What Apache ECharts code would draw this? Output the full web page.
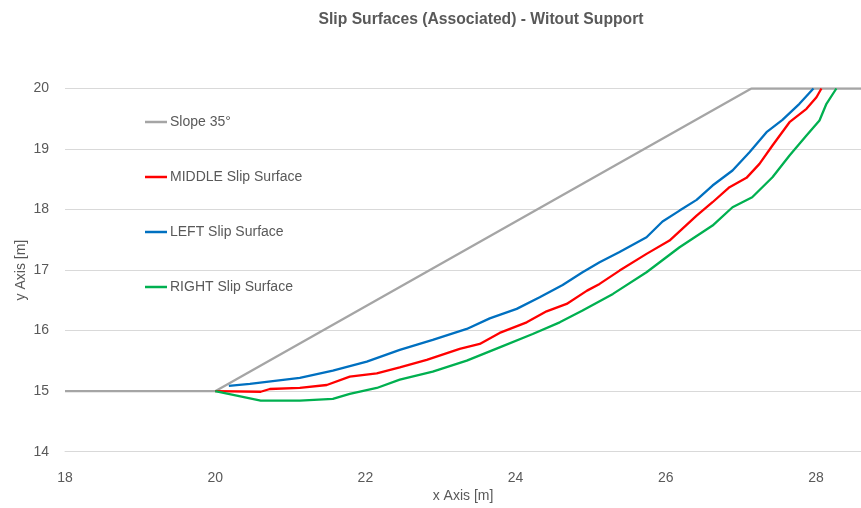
<!DOCTYPE html>
<html>
<head>
<meta charset="utf-8">
<script src="https://cdn.jsdelivr.net/npm/echarts@6/dist/echarts.min.js"></script>
<style>html,body{margin:0;padding:0;background:#fff;}#c{width:861px;height:508px;}</style>
</head>
<body>
<div id="c"></div>
<script>
const titleText = 'Slip Surfaces (Associated) - Witout Support';
const seriesNames = ['Slope 35°', 'MIDDLE Slip Surface', 'LEFT Slip Surface', 'RIGHT Slip Surface'];
const seriesColors = ['#A5A5A5', '#FF0000', '#0070C0', '#00B050'];

const slopeX = [18, 20, 27.14, 28.6];
const slopeY = [15, 15, 20, 20];

const middleX = [20.0, 20.606, 20.728, 21.127, 21.486, 21.792, 22.152, 22.458, 22.817, 23.256, 23.523, 23.788, 24.148, 24.413, 24.680, 24.952, 25.119, 25.385, 25.744, 26.050, 26.411, 26.623, 26.849, 27.075, 27.248, 27.421, 27.648, 27.874, 28.007, 28.073];
const middleY = [15.0, 14.99, 15.036, 15.053, 15.102, 15.240, 15.294, 15.393, 15.516, 15.698, 15.780, 15.962, 16.137, 16.319, 16.441, 16.661, 16.772, 16.992, 17.268, 17.488, 17.901, 18.121, 18.369, 18.524, 18.755, 19.058, 19.443, 19.664, 19.856, 20.0];

const leftX = [20.182, 20.462, 21.127, 21.567, 22.019, 22.458, 22.897, 23.350, 23.656, 24.015, 24.321, 24.627, 24.892, 25.119, 25.385, 25.744, 25.957, 26.184, 26.411, 26.623, 26.889, 27.115, 27.342, 27.554, 27.780, 27.967];
const leftY = [15.086, 15.119, 15.218, 15.339, 15.488, 15.681, 15.846, 16.028, 16.203, 16.359, 16.550, 16.755, 16.964, 17.13, 17.30, 17.542, 17.802, 17.983, 18.160, 18.397, 18.645, 18.947, 19.278, 19.483, 19.747, 20.0];

const rightX = [20.0, 20.606, 21.127, 21.567, 21.792, 22.152, 22.458, 22.897, 23.350, 23.788, 24.228, 24.588, 24.892, 25.297, 25.744, 26.184, 26.623, 26.889, 27.151, 27.421, 27.648, 27.874, 28.047, 28.140, 28.272];
const rightY = [15.0, 14.843, 14.843, 14.871, 14.954, 15.053, 15.190, 15.322, 15.504, 15.724, 15.945, 16.137, 16.331, 16.607, 16.964, 17.377, 17.736, 18.038, 18.203, 18.534, 18.893, 19.223, 19.471, 19.747, 20.0];

const xTicks = [18, 20, 22, 24, 26, 28];
const yTicks = [14, 15, 16, 17, 18, 19, 20];

const zip = (xs, ys) => xs.map((x, i) => [x, ys[i]]);
const allX = [slopeX, middleX, leftX, rightX];
const allY = [slopeY, middleY, leftY, rightY];

const font = "'Liberation Sans', 'DejaVu Sans', sans-serif";
const txt = '#595959';

const chart = echarts.init(document.getElementById('c'), null, {renderer: 'canvas'});
chart.setOption({
  animation: false,
  backgroundColor: '#fff',
  textStyle: {fontFamily: font},
  title: {
    text: titleText, left: 476, top: 7, textAlign: 'center',
    textStyle: {fontSize: 15.7, fontWeight: 'bold', color: txt, fontFamily: font}
  },
  legend: {
    orient: 'vertical', left: 140, top: 110,
    icon: 'rect', itemWidth: 22, itemHeight: 2.5, itemGap: 41,
    data: seriesNames,
    textStyle: {fontSize: 14, color: txt, fontFamily: font, padding: [0, 0, 0, -2]}
  },
  grid: {left: 65, right: 0, top: 88.5, bottom: 56.3, containLabel: false, outerBoundsMode: 'none'},
  xAxis: {
    type: 'value', min: xTicks[0], max: 28.6, interval: 2,
    name: 'x Axis [m]', nameLocation: 'middle', nameGap: 37, nameMoveOverlap: false,
    nameTextStyle: {fontSize: 14, color: txt, fontFamily: font},
    axisLine: {show: true, onZero: false, lineStyle: {color: '#D9D9D9', width: 1}},
    axisTick: {show: false},
    splitLine: {show: false},
    axisLabel: {fontSize: 14, color: txt, margin: 19, showMaxLabel: false, fontFamily: font}
  },
  yAxis: {
    type: 'value', min: yTicks[0], max: yTicks[yTicks.length - 1], interval: 1,
    name: 'y Axis [m]', nameLocation: 'middle', nameGap: 37, nameRotate: 90, nameMoveOverlap: false,
    nameTextStyle: {fontSize: 14, color: txt, fontFamily: font},
    axisLine: {show: false},
    axisTick: {show: false},
    splitLine: {show: true, lineStyle: {color: '#D9D9D9', width: 1}},
    axisLabel: {fontSize: 14, color: txt, margin: 16, fontFamily: font}
  },
  series: seriesNames.map((n, i) => ({
    name: n, type: 'line', symbol: 'none', smooth: false,
    data: zip(allX[i], allY[i]),
    lineStyle: {color: seriesColors[i], width: 2.3},
    itemStyle: {color: seriesColors[i]},
    z: i === 0 ? 2 : 3
  }))
});
</script>
</body>
</html>
